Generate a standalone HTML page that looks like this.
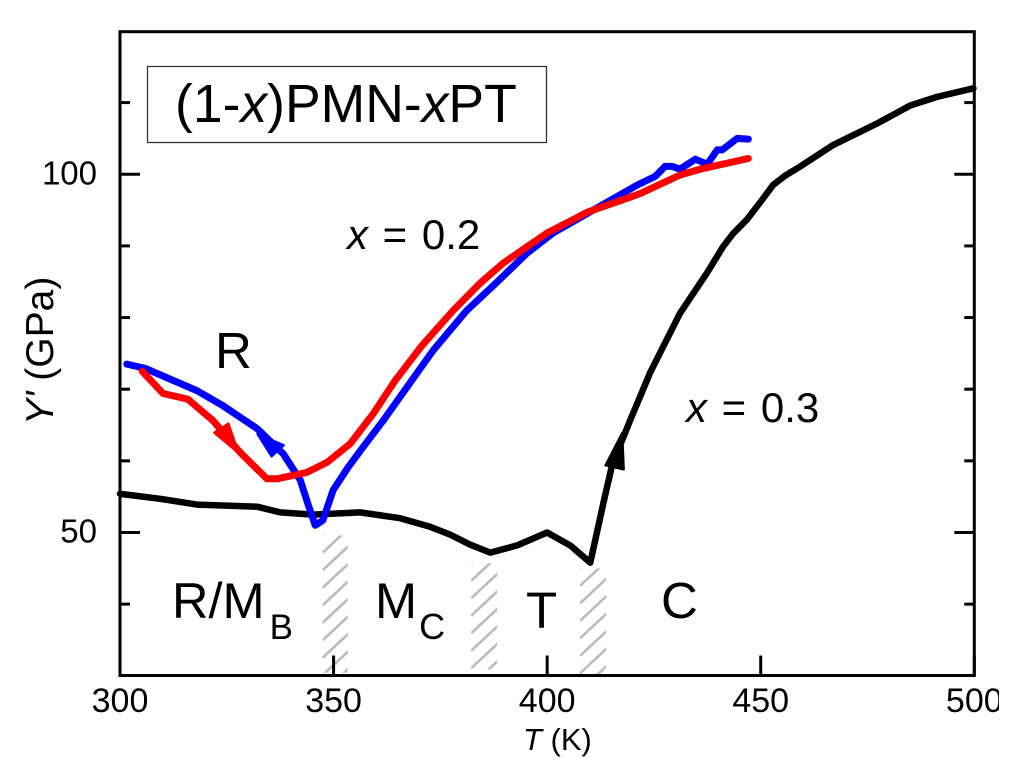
<!DOCTYPE html>
<html>
<head>
<meta charset="utf-8">
<title>(1-x)PMN-xPT modulus vs temperature</title>
<style>
html,body{margin:0;padding:0;background:#fff;width:1024px;height:775px;overflow:hidden}
svg{display:block}
text{font-family:"Liberation Sans",Arial,sans-serif;fill:#000}
</style>
</head>
<body>
<svg id="chart" xmlns="http://www.w3.org/2000/svg" width="1024" height="775" viewBox="0 0 1024 775">
  <defs>
    <clipPath id="page-clip"><rect x="0" y="0" width="999" height="775"/></clipPath>
  </defs>
  <g id="hatches"></g>
  <g id="series"></g>
  <g id="axes" clip-path="url(#page-clip)"></g>

  <rect x="147.5" y="66.5" width="399" height="76" fill="#fff" stroke="#333" stroke-width="1.3"/>
  <text x="175" y="122" font-size="53.5">(1-<tspan font-style="italic">x</tspan>)PMN-<tspan font-style="italic">x</tspan>PT</text>

  <text x="347" y="249" font-size="42" word-spacing="3"><tspan font-style="italic">x</tspan> = 0.2</text>
  <text x="686" y="422" font-size="42" word-spacing="3"><tspan font-style="italic">x</tspan> = 0.3</text>

  <text x="215" y="368" font-size="51">R</text>
  <text x="172" y="618" font-size="50.5">R/M<tspan font-size="35" dx="5" dy="21">B</tspan></text>
  <text x="375" y="618" font-size="50.5">M<tspan font-size="36" dx="2" dy="21">C</tspan></text>
  <text x="526" y="628" font-size="51">T</text>
  <text x="661" y="618" font-size="51">C</text>

  <text x="523" y="750" font-size="31"><tspan font-style="italic">T</tspan> (K)</text>
  <text transform="translate(53,425) rotate(-90)" font-size="39"><tspan font-style="italic">Y'</tspan> (GPa)</text>
</svg>

<script>
// Axis ranges
var xDomain = [300, 500];
var yDomain = [30, 120];

// Tick values
var xTickValues = [300, 350, 400, 450, 500];
var xTickLabels = ["300", "350", "400", "450", "500"];
var yMajorTicks = [50, 100];
var yMajorLabels = ["50", "100"];
var yMinorTicks = [40, 60, 70, 80, 90, 110];

// Black curve, x = 0.3
var blackT = [300,309.4,318,332.1,337.5,345.2,356.2,365.6,372.6,377.3,382,386.7,393,400,405.4,410.1,413.3,415.2,419.4,424.1,431.1,437.5,441.2,443.5,446.8,449.9,452.9,455.7,459.3,467,477.3,485,491.3,499.8];
var blackY = [55.4,54.7,53.9,53.6,52.8,52.5,52.8,52,50.8,49.7,48.3,47.2,48.2,50,48.2,45.8,54.5,59.4,65.6,72.3,80.6,86.3,89.9,91.7,93.7,96.1,98.5,99.8,101.1,104.1,107.1,109.6,110.8,112];

// Blue curve, x = 0.2 heating
var blueT = [301.6,305.9,318,324.1,332.1,338.2,342.2,344,345.7,347.5,349.9,353.4,356.9,361.6,367.2,373.3,381.2,388.2,395.3,401.4,410.8,421.1,425.3,427.6,429.3,431.1,434.7,437.5,439.8,441,444.5,447.1];
var blueY = [73.5,72.9,69.8,67.7,64.5,61,57.3,54,51,51.7,55.9,59.1,61.9,65.6,70.3,75.4,81,84.9,89,91.8,95,98.5,99.7,101.1,101.1,100.7,102.1,101.4,103.4,103.4,105,104.9];

// Red curve, x = 0.2 cooling
var redT = [305.2,310.1,315.9,321.8,328.1,334.4,336.8,343.8,348.5,353.9,359.3,364.4,370.7,378,384.3,389.7,400,409.4,421.8,431.1,435.8,447.1];
var redY = [72.5,69.4,68.6,65.6,61.2,57.5,57.5,58.4,59.8,62.4,66.6,71.2,76.1,81,84.8,87.6,91.8,94.7,97.3,99.9,100.7,102.2];

// Phase boundary bands: temperature start, temperature end, modulus top and bottom
var bandStartT = [347.4, 382.2, 407.7];
var bandEndT = [353.3, 388.3, 413.8];
var bandTopY = [49.6, 45.7, 45];
var bandBottomY = [30.4, 30.9, 30.2];

// Direction arrows: anchor temperature and modulus
var arrowT = [327, 335.5, 416.5];
var arrowY = [62.4, 62.6, 60.5];

var NS = "http://www.w3.org/2000/svg";
var PLOT = {left: 120, right: 974.3, top: 31.7, bottom: 675.5};

function xScale(t) {
  return PLOT.left + (t - xDomain[0]) / (xDomain[1] - xDomain[0]) * (PLOT.right - PLOT.left);
}
function yScale(v) {
  return 532.5 + (50 - v) * 7.165;
}
function make(tag, parent, attrs) {
  var e = document.createElementNS(NS, tag);
  for (var k in attrs) e.setAttribute(k, attrs[k]);
  parent.appendChild(e);
  return e;
}

var axes = document.getElementById("axes");
var hatches = document.getElementById("hatches");
var series = document.getElementById("series");

// Hatched bands
bandStartT.forEach(function (t0, i) {
  var x0 = xScale(t0), x1 = xScale(bandEndT[i]), y0 = yScale(bandTopY[i]), y1 = yScale(bandBottomY[i]);
  var id = "band-clip-" + i;
  var cp = make("clipPath", hatches, {id: id});
  make("rect", cp, {x: x0, y: y0, width: x1 - x0, height: y1 - y0});
  var g = make("g", hatches, {"clip-path": "url(#" + id + ")"});
  
  
  for (var yy = y0; yy < y1 + 30; yy += 17.5) {
    make("line", g, {x1: x0, y1: yy, x2: x0 + 30, y2: yy - 28, stroke: "#bbbbbb", "stroke-width": 2.6});
  }
});

// Series
function drawLine(ts, ys, color, w) {
  var d = ts.map(function (t, i) {
    return (i ? "L" : "M") + xScale(t).toFixed(1) + " " + yScale(ys[i]).toFixed(1);
  }).join("");
  return make("path", series, {d: d, fill: "none", stroke: color, "stroke-width": w, "stroke-linejoin": "round", "stroke-linecap": "round"});
}
var blackLine = drawLine(blackT, blackY, "#000", 6.5);


var blueLine = drawLine(blueT, blueY, "#0000ff", 7);


var redLine = drawLine(redT, redY, "#ff0000", 7);



// Direction arrows, shapes offset from anchors
function arrow(i, offs, color) {
  var ax = xScale(arrowT[i]), ay = yScale(arrowY[i]);
  var pts = offs.map(function (o) { return (ax + o[0]) + "," + (ay + o[1]); }).join(" ");
  return make("polygon", series, {points: pts, fill: color, stroke: color, "stroke-width": 2.5, "stroke-linejoin": "round"});
}
var redArrow = arrow(0, [[-21, -11], [-7, -20], [3, 9]], "#ff0000");


var blueArrow = arrow(1, [[-14, -8], [12, 3], [0, 14]], "#0000ff");


var blackArrow = arrow(2, [[4.5, -24], [-12, 8], [6, 12]], "#000");



// Frame
var frame = make("rect", axes, {x: PLOT.left, y: PLOT.top, width: PLOT.right - PLOT.left, height: PLOT.bottom - PLOT.top, fill: "none", stroke: "#000", "stroke-width": 3});



// X ticks and labels
xTickValues.forEach(function (t, i) {
  var x = xScale(t);
  var tick = make("line", axes, {x1: x, y1: PLOT.bottom, x2: x, y2: PLOT.bottom - 20, stroke: "#000", "stroke-width": 3});
  
  
  var lab = make("text", axes, {x: x, y: 712, "text-anchor": "middle", "font-size": 34});
  lab.textContent = xTickLabels[i];
  
  
});

// Y ticks and labels
yMajorTicks.forEach(function (v, i) {
  var y = yScale(v);
  var tick = make("line", axes, {x1: PLOT.left, y1: y, x2: PLOT.left + 20, y2: y, stroke: "#000", "stroke-width": 3});
  
  
  var tickR = make("line", axes, {x1: PLOT.right, y1: y, x2: PLOT.right - 20, y2: y, stroke: "#000", "stroke-width": 3});
  
  
  var lab = make("text", axes, {x: 97, y: y + 10, "text-anchor": "end", "font-size": 33});
  lab.textContent = yMajorLabels[i];
  
  
});
yMinorTicks.forEach(function (v) {
  var y = yScale(v);
  var tick = make("line", axes, {x1: PLOT.left, y1: y, x2: PLOT.left + 10, y2: y, stroke: "#000", "stroke-width": 3});
  
  
  var tickR = make("line", axes, {x1: PLOT.right, y1: y, x2: PLOT.right - 10, y2: y, stroke: "#000", "stroke-width": 3});
  
  
});
</script>
</body>
</html>
